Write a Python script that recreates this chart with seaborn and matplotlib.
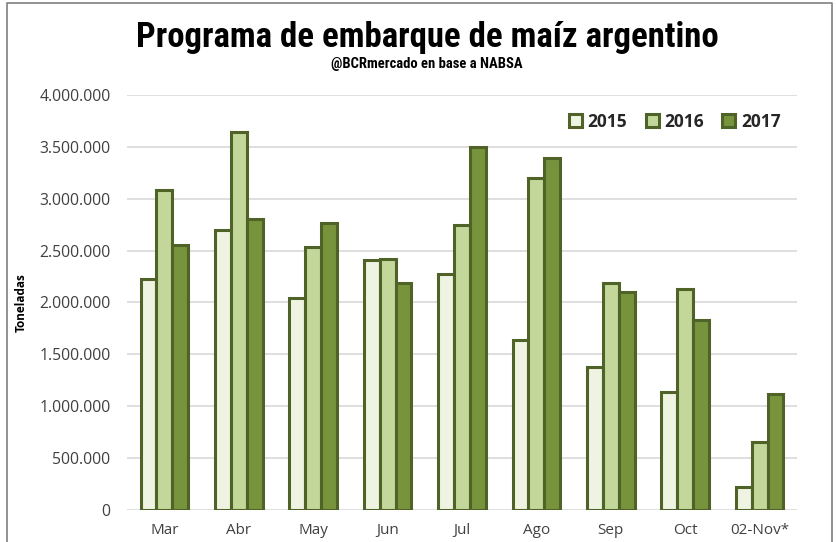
import numpy as np
import pandas as pd
import matplotlib
matplotlib.use("Agg")
import matplotlib.pyplot as plt
from matplotlib.ticker import FuncFormatter
from matplotlib.lines import Line2D
import seaborn as sns

# Data (toneladas)
meses = ["Mar", "Abr", "May", "Jun", "Jul", "Ago", "Sep", "Oct", "02-Nov*"]
anios = ["2015", "2016", "2017"]
v2015 = [2230000, 2700000, 2040000, 2410000, 2270000, 1640000, 1380000, 1140000, 225000]
v2016 = [3080000, 3640000, 2530000, 2420000, 2750000, 3200000, 2190000, 2130000, 660000]
v2017 = [2555000, 2800000, 2770000, 2190000, 3500000, 3395000, 2100000, 1830000, 1115000]

df = pd.DataFrame({
    "mes": meses * 3,
    "anio": [a for a in anios for _ in meses],
    "ton": v2015 + v2016 + v2017,
})

sns.set_theme(style="white")
plt.rcParams["font.family"] = ["Open Sans", "DejaVu Sans"]

colores = {"2015": "#EEF3E2", "2016": "#C4D79B", "2017": "#77933C"}
borde = "#4F6228"
condensada = ["Liberation Sans Narrow", "Roboto Condensed", "DejaVu Sans"]

fig = plt.figure(figsize=(8.37, 5.42), dpi=100)
ax = fig.add_axes([0.152, 0.059, 0.80, 0.766])

sns.barplot(data=df, x="mes", y="ton", hue="anio", hue_order=anios,
            palette=colores, width=0.64, edgecolor=borde, linewidth=2.2,
            saturation=1, ax=ax, legend=True)

ax.set_ylim(0, 4000000)
ax.set_xlim(-0.5, 8.5)
ax.set_yticks(np.arange(0, 4000001, 500000))
ax.yaxis.set_major_formatter(FuncFormatter(lambda v, p: f"{int(v):,}".replace(",", ".")))
ax.yaxis.grid(True, color="#D9D9D9", linewidth=1.2)
ax.set_axisbelow(True)
for s in ax.spines.values():
    s.set_visible(False)
ax.tick_params(axis="both", length=0, labelsize=11.3, labelcolor="#404040")
ax.tick_params(axis="y", pad=12)
ax.tick_params(axis="x", labelsize=11, pad=9)
ax.set_xlabel("")
ax.set_ylabel("Toneladas", fontsize=8.5, fontweight="bold", color="black", labelpad=8)

leg = ax.legend(loc="upper right", bbox_to_anchor=(1.0, 0.995), ncol=3, frameon=False,
                handlelength=0.75, handleheight=0.75, handletextpad=0.35, columnspacing=1.05,
                prop={"weight": "bold", "size": 12.5})
for t in leg.get_texts():
    t.set_color("#262626")

fig.text(0.51, 0.93, "Programa de embarque de maíz argentino", ha="center", va="center",
         fontsize=25, fontweight="bold", color="black", family=condensada)
fig.text(0.51, 0.881, "@BCRmercado en base a NABSA", ha="center", va="center",
         fontsize=10.5, fontweight="bold", color="black", family=condensada)

# outer frame
fig.add_artist(Line2D([0.008, 0.008, 0.994, 0.994], [0.0, 0.994, 0.994, 0.0],
                      transform=fig.transFigure, color="#7F7F7F", linewidth=1.2))

fig.savefig("out.png", dpi=100)
